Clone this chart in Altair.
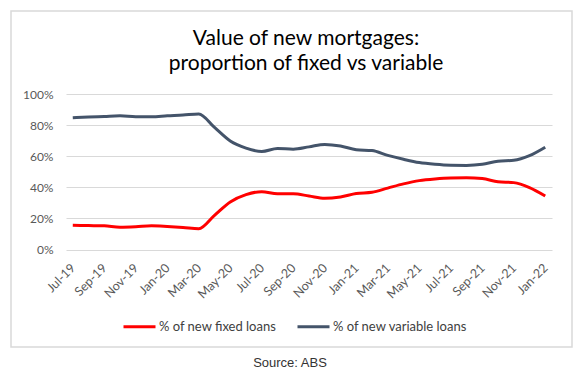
import altair as alt
import pandas as pd

months = ["Jul-19","Aug-19","Sep-19","Oct-19","Nov-19","Dec-19","Jan-20","Feb-20","Mar-20",
          "Apr-20","May-20","Jun-20","Jul-20","Aug-20","Sep-20","Oct-20","Nov-20","Dec-20",
          "Jan-21","Feb-21","Mar-21","Apr-21","May-21","Jun-21","Jul-21","Aug-21","Sep-21",
          "Oct-21","Nov-21","Dec-21","Jan-22"]
fixed = [15.6,15.4,15.2,14.3,14.6,15.2,14.8,14.2,13.4,22.0,30.6,35.3,37.2,35.8,35.8,34.4,
         32.9,33.8,36.0,36.8,39.5,42.2,44.3,45.4,46.0,46.1,45.6,43.6,43.0,39.8,34.4]
variable = [84.7,85.2,85.6,86.0,85.4,85.4,86.0,86.5,87.2,78.5,69.8,65.2,63.0,65.0,64.5,66.0,
            67.6,66.6,64.2,63.6,60.5,58.0,55.9,54.8,54.2,54.1,54.8,56.8,57.4,60.4,65.8]
series_names = ["% of new fixed loans", "% of new variable loans"]
series_colors = ["#FF0000", "#44546A"]
tick_labels = months[::2]
title_lines = ["Value of new mortgages:", "proportion of fixed vs variable"]
source_text = "Source: ABS"

rows = []
for m, f, v in zip(months, fixed, variable):
    rows.append({"month": m, "series": series_names[0], "value": f / 100})
    rows.append({"month": m, "series": series_names[1], "value": v / 100})
df = pd.DataFrame(rows)

W, H = 486, 155.5
left, top = 66, 94

lines = alt.Chart(df).mark_line(strokeWidth=3, interpolate="monotone").encode(
    x=alt.X("month:N", sort=months,
            scale=alt.Scale(type="point", padding=0.43),
            axis=alt.Axis(values=tick_labels, labelAngle=-45, labelAlign="right",
                          labelBaseline="middle", ticks=False, domain=False, grid=False,
                          labelPadding=16, labelFont="Lato", labelFontSize=12.5,
                          labelColor="#595959", title=None)),
    y=alt.Y("value:Q", scale=alt.Scale(domain=[0, 1]),
            axis=alt.Axis(values=[0, 0.2, 0.4, 0.6, 0.8, 1.0], format=".0%",
                          ticks=False, domain=False, grid=True, gridColor="#D9D9D9",
                          gridWidth=1, labelPadding=13, labelFont="Lato",
                          labelFontSize=12, labelColor="#595959", title=None)),
    color=alt.Color("series:N", sort=series_names,
                    scale=alt.Scale(domain=series_names, range=series_colors),
                    legend=alt.Legend(orient="none", legendX=56, legendY=215,
                                      direction="horizontal", title=None,
                                      symbolType="stroke", symbolSize=1024,
                                      symbolStrokeWidth=3, labelFont="Lato",
                                      labelFontSize=13, labelColor="#404040",
                                      labelOffset=2, columnPadding=14)),
)

one = pd.DataFrame({"a": [0]})
border = alt.Chart(one).mark_rect(fill=None, stroke="#D9D9D9", strokeWidth=1.5).encode(
    x=alt.value(11 - left), x2=alt.value(572 - left),
    y=alt.value(11 - top), y2=alt.value(347 - top))
title = alt.Chart(one).mark_text(font="Lato", fontSize=21, color="#000000",
                                 align="center", baseline="middle", lineHeight=25).encode(
    x=alt.value(306 - left), y=alt.value(39 - top), text=alt.value(title_lines))
source = alt.Chart(one).mark_text(font="Liberation Sans", fontSize=13, color="#333333",
                                  align="center", baseline="middle").encode(
    x=alt.value(290 - left), y=alt.value(363 - top), text=alt.value(source_text))

chart = alt.layer(border, lines, title, source).properties(
    width=W, height=H,
    autosize=alt.AutoSizeParams(type="none"),
    padding={"left": left, "top": top, "right": 578 - left - W, "bottom": 376 - top - H},
).configure_view(stroke=None)

chart.save("out.html", embed_options={"renderer": "svg", "actions": False})
